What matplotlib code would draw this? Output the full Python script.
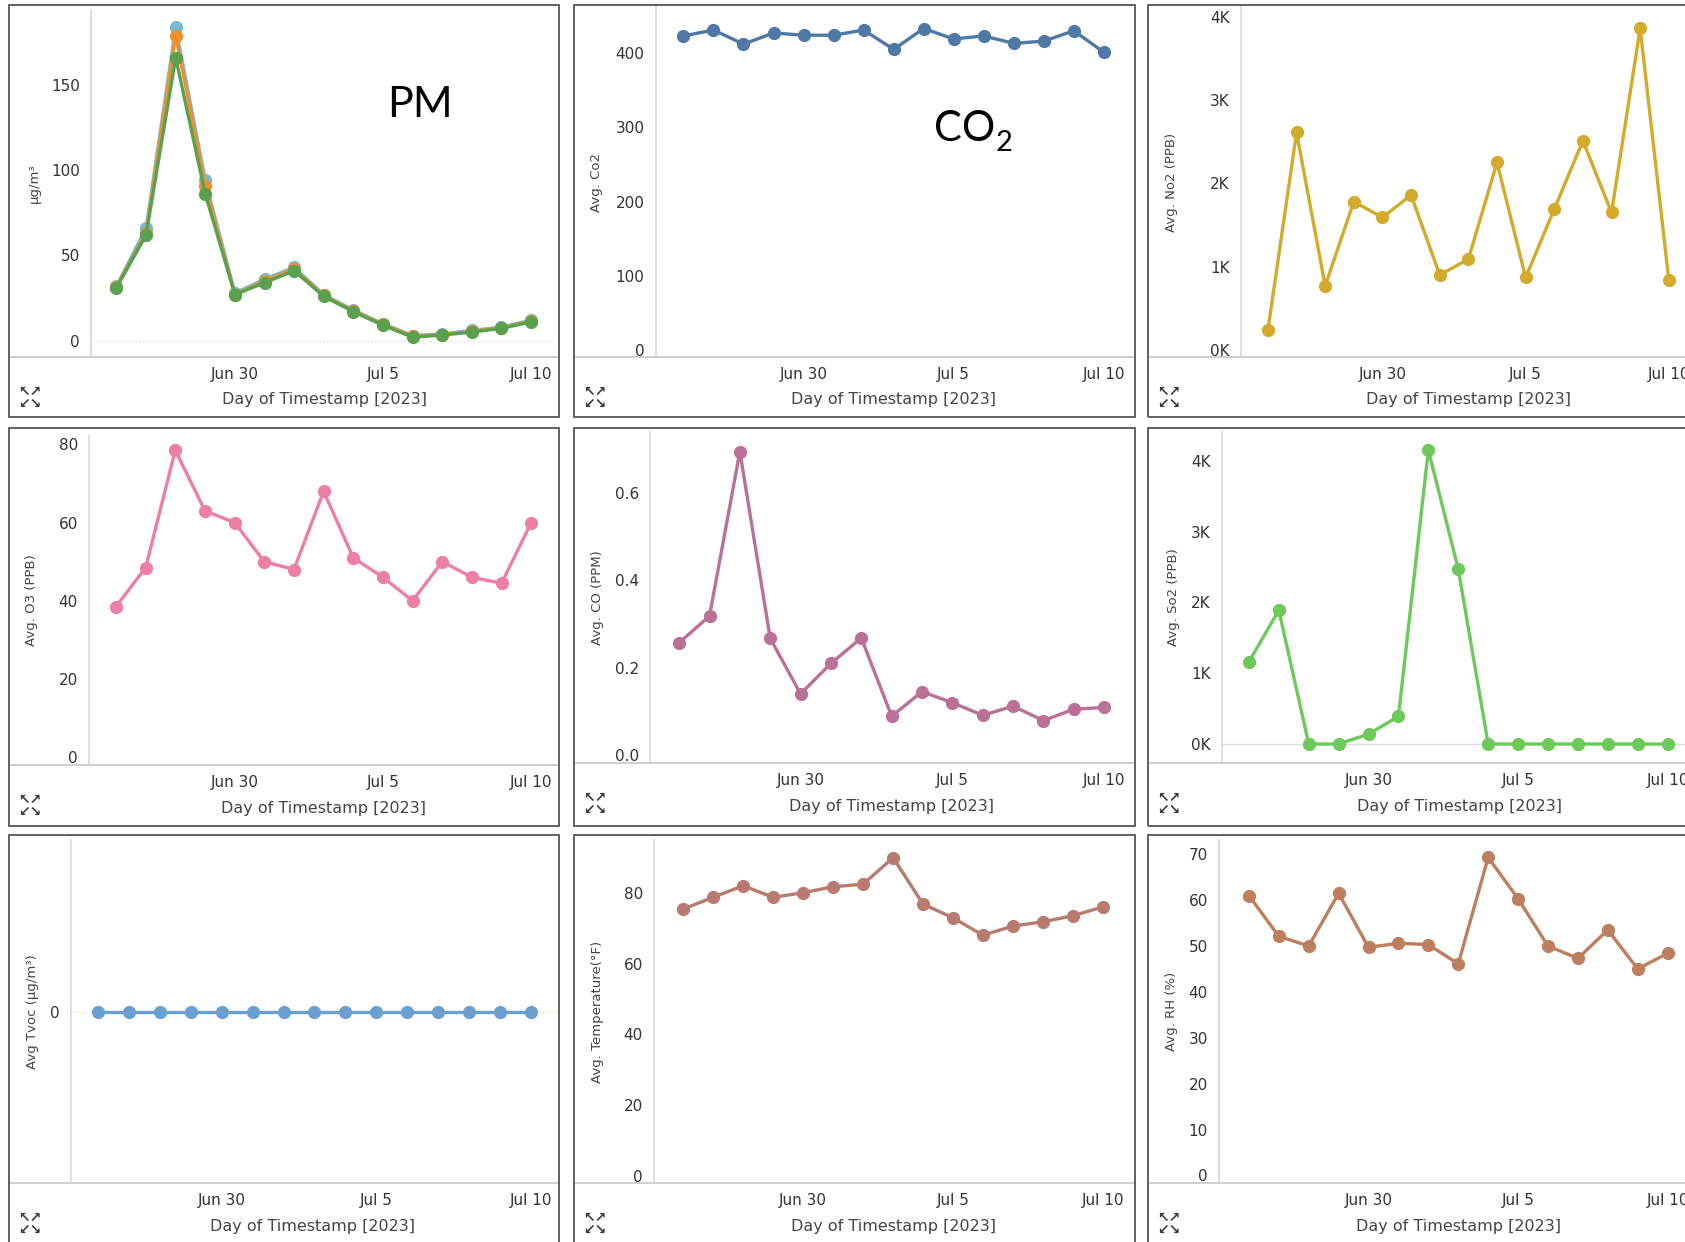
import matplotlib
matplotlib.use("Agg")
import matplotlib.pyplot as plt
from matplotlib.lines import Line2D
from matplotlib.patches import Rectangle
import pandas as pd

W, H = 1685, 1242

# ---------------- data ----------------
dates = ["2023-06-26", "2023-06-27", "2023-06-28", "2023-06-29", "2023-06-30",
         "2023-07-01", "2023-07-02", "2023-07-03", "2023-07-04", "2023-07-05",
         "2023-07-06", "2023-07-07", "2023-07-08", "2023-07-09", "2023-07-10"]
tick_dates = ["2023-06-30", "2023-07-05", "2023-07-10"]
tick_labels = ["Jun 30", "Jul 5", "Jul 10"]

pm_cyan = [32, 66, 184, 94, 28, 36, 43, 27, 18, 10, 3, 4, 6, 8, 12]
pm_orange = [31.5, 63, 179, 91, 27, 35, 42, 26.5, 17.5, 9.5, 2.5, 3.5, 5.5, 7.5, 11.5]
pm_green = [31, 62, 166, 86, 27, 34, 41, 26, 17, 9, 2, 3.3, 5, 7.2, 11]
co2 = [423, 431, 412, 427, 424, 424, 431, 405, 433, 419, 423, 413, 416, 430, 401]
no2 = [240, 2610, 770, 1780, 1590, 1860, 900, 1090, 2250, 870, 1690, 2510, 1650, 3860, 840]
o3 = [38.5, 48.5, 78.5, 63, 60, 50, 48, 68, 51, 46, 40, 50, 46, 44.5, 60]
co = [0.257, 0.318, 0.694, 0.267, 0.140, 0.210, 0.268, 0.089, 0.145, 0.120,
      0.091, 0.112, 0.079, 0.105, 0.109]
so2 = [1160, 1890, 0, 0, 140, 390, 4150, 2470, 0, 0, 0, 0, 0, 0, 0]
tvoc = [0, 0, 0, 0, 0, 0, 0, 0, 0, 0, 0, 0, 0, 0, 0]
temp = [75.4, 78.7, 82.0, 78.7, 80.0, 81.7, 82.4, 89.9, 76.8, 72.9, 68.0, 70.6, 71.8, 73.5, 76.0]
rh = [61.0, 52.1, 50.0, 61.5, 49.7, 50.6, 50.3, 46.1, 69.3, 60.3, 50.0, 47.3, 53.5, 45.0, 48.4]

x = pd.to_datetime(dates)
xt = pd.to_datetime(tick_dates)

fig = plt.figure(figsize=(W / 100, H / 100), dpi=100)
fig.patch.set_facecolor("white")

TXT = "#333333"
LBL = "#444444"


def fx(px):
    return px / W


def fy(py):
    return 1 - py / H


def frame(L, T, R, B):
    fig.patches.append(Rectangle((fx(L), fy(B)), fx(R) - fx(L), fy(T) - fy(B),
                                 transform=fig.transFigure, fill=False,
                                 edgecolor="#555555", lw=1.3, zorder=0))


def panel(frame_lr, L, T, R, B, series, ylim, yticks, ylabels, a, b,
          ylabel, ylab_x, xlab_x, zero=None):
    fL, fR = frame_lr
    ax = fig.add_axes([fx(L), fy(B), fx(R) - fx(L), fy(T) - fy(B)])
    ax.set_facecolor("none")
    for s in ax.spines.values():
        s.set_visible(False)
    if zero is not None:
        ax.axhline(0, color=zero[0], lw=1.0, ls=zero[1], zorder=1)
    for vals, c in series:
        ax.plot(x, vals, color=c, lw=2.4, marker="o", ms=8.5, mfc=c, mec=c,
                clip_on=False, zorder=3)
    ax.set_xlim(x[0] - pd.Timedelta(days=a), x[-1] + pd.Timedelta(days=b))
    ax.set_ylim(*ylim)
    ax.set_yticks(yticks, ylabels)
    ax.set_xticks(xt, tick_labels)
    ax.tick_params(axis="both", length=0, labelsize=11, colors=TXT)
    ax.tick_params(axis="x", pad=7)
    ax.tick_params(axis="y", pad=8)
    hpx = B - T
    wpx = R - L
    ax.set_xlabel("Day of Timestamp [2023]", fontsize=11.5, color=LBL, va="center")
    ax.xaxis.set_label_coords((xlab_x - L) / wpx, -43 / hpx)
    ax.set_ylabel(ylabel, fontsize=9.5, color=LBL, va="center")
    ax.yaxis.set_label_coords((ylab_x - L) / wpx, 0.5)
    # left axis line and separator
    fig.lines.append(Line2D([fx(L), fx(L)], [fy(T), fy(B)], transform=fig.transFigure,
                            color="#d9d9d9", lw=1.2, zorder=1))
    fig.lines.append(Line2D([fx(fL + 2), fx(fR - 2)], [fy(B), fy(B)],
                            transform=fig.transFigure, color="#cccccc", lw=1.3, zorder=1))
    # expand icon
    fig.text(fx(fL + 21), fy(B + 41), "\u2196\u2197\n\u2199\u2198", fontsize=10,
             color="#3a3a3a", ha="center", va="center", linespacing=0.8,
             fontweight="bold")
    return ax


# frames
cols = [(9, 559), (574, 1135), (1148, 1705)]
rows = [(5, 417), (428, 826), (835, 1260)]
for (t, bt) in rows:
    for (l, r) in cols:
        frame(l, t, r, bt)

# Row 1
panel(cols[0], 91, 10, 555, 357,
      [(pm_cyan, "#7ab9cc"), (pm_orange, "#f28e2b"), (pm_green, "#59a14f")],
      (-9.6, 194), [0, 50, 100, 150], ["0", "50", "100", "150"], 0.86, 0.81,
      "µg/m³", 34.5, 324, zero=("#e3e3e3", ":"))
panel(cols[1], 655.5, 7, 1133, 357, [(co2, "#4e79a7")], (-9.4, 462),
      [0, 100, 200, 300, 400], ["0", "100", "200", "300", "400"], 0.93, 0.97,
      "Avg. Co2", 596, 893.6)
panel(cols[2], 1241, 7, 1696, 357, [(no2, "#d4aa2a")], (-84, 4116),
      [0, 1000, 2000, 3000, 4000], ["0K", "1K", "2K", "3K", "4K"], 0.94, 0.95,
      "Avg. No2 (PPB)", 1171, 1468.5)

# Row 2
panel(cols[0], 89, 435, 552, 765, [(o3, "#ec7fa2")], (-2, 82.4),
      [0, 20, 40, 60, 80], ["0", "20", "40", "60", "80"], 0.91, 0.7,
      "Avg. O3 (PPB)", 31, 323.6)
panel(cols[1], 650, 432, 1133, 763, [(co, "#bb7097")], (-0.018, 0.739),
      [0, 0.2, 0.4, 0.6], ["0.0", "0.2", "0.4", "0.6"], 0.96, 0.95,
      "Avg. CO (PPM)", 597, 891.8)
panel(cols[2], 1222, 432, 1696, 763, [(so2, "#6cc95a")], (-268, 4405),
      [0, 1000, 2000, 3000, 4000], ["0K", "1K", "2K", "3K", "4K"], 0.9, 0.95,
      "Avg. So2 (PPB)", 1173, 1459.8, zero=("#dddddd", "-"))

# Row 3
panel(cols[0], 71, 840, 555, 1183, [(tvoc, "#6a9fcf")], (-1, 1),
      [0], ["0"], 0.88, 0.79, "Avg Tvoc (µg/m³)", 32.7, 312.7,
      zero=("#f5d9b8", ":"))
panel(cols[1], 654, 840, 1133, 1183, [(temp, "#b97a70")], (-2, 94.9),
      [0, 20, 40, 60, 80], ["0", "20", "40", "60", "80"], 0.97, 1.0,
      "Avg. Temperature(°F)", 597, 893.6)
panel(cols[2], 1219, 840, 1696, 1183, [(rh, "#bd7f5e")], (-1.66, 73.1),
      [0, 10, 20, 30, 40, 50, 60, 70], ["0", "10", "20", "30", "40", "50", "60", "70"],
      1.0, 0.95, "Avg. RH (%)", 1171, 1458)

# Annotations
fig.text(fx(387), fy(116.7), "PM", fontsize=31, family="Lato", color="black",
         ha="left", va="baseline")
t_co = fig.text(fx(934), fy(141), "CO", fontsize=30, family="Lato", color="black",
                ha="left", va="baseline")
fig.canvas.draw()
bb = t_co.get_window_extent()
fig.text(bb.x1 / W, fy(150.7), "2", fontsize=21, family="Lato", color="black",
         ha="left", va="baseline")

fig.savefig("out.png", dpi=100, facecolor="white")
